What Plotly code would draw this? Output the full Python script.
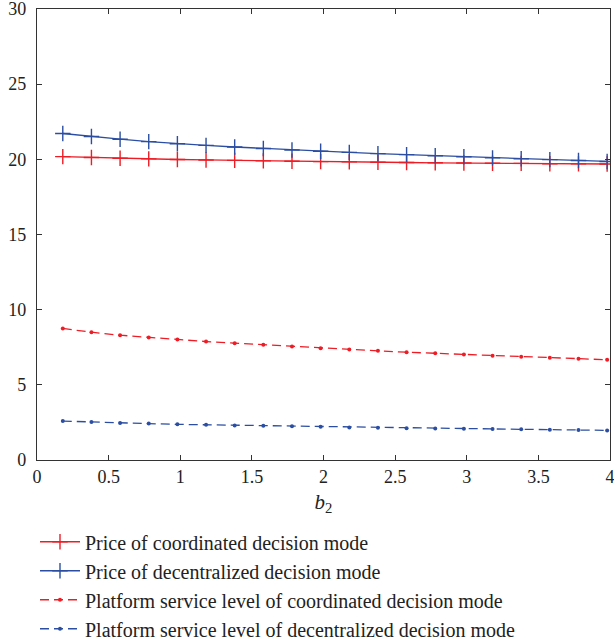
import plotly.graph_objects as go

b2 = [round(0.18 + 0.2 * k, 2) for k in range(20)]
price_coord = [20.18, 20.12, 20.07, 20.03, 19.99, 19.96, 19.93, 19.90, 19.87, 19.85,
               19.83, 19.81, 19.79, 19.77, 19.76, 19.74, 19.73, 19.71, 19.70, 19.69]
price_decent = [21.72, 21.52, 21.34, 21.18, 21.04, 20.93, 20.82, 20.72, 20.62, 20.54,
                20.46, 20.38, 20.31, 20.24, 20.17, 20.10, 20.04, 19.98, 19.92, 19.86]
service_coord = [8.75, 8.50, 8.30, 8.15, 8.01, 7.88, 7.77, 7.66, 7.55, 7.44,
                 7.35, 7.26, 7.17, 7.10, 7.02, 6.93, 6.87, 6.80, 6.73, 6.67]
service_decent = [2.59, 2.52, 2.46, 2.42, 2.37, 2.34, 2.30, 2.27, 2.24, 2.22,
                  2.17, 2.15, 2.12, 2.10, 2.08, 2.06, 2.04, 2.02, 1.99, 1.97]

x_ticks = [0, 0.5, 1, 1.5, 2, 2.5, 3, 3.5, 4]
x_tick_labels = ["0", "0.5", "1", "1.5", "2", "2.5", "3", "3.5", "4"]
y_ticks = [0, 5, 10, 15, 20, 25, 30]

names = ["Price of coordinated decision mode",
         "Price of decentralized decision mode",
         "Platform service level of coordinated decision mode",
         "Platform service level of decentralized decision mode"]

RED = "#ee1c25"
BLUE = "#2b4ea2"
FONT = "'Liberation Serif', 'DejaVu Serif', 'Times New Roman', serif"

fig = go.Figure()
fig.add_trace(go.Scatter(x=b2, y=price_coord, name=names[0], mode="lines+markers",
                         line=dict(color=RED, width=1.3),
                         marker=dict(symbol="cross-thin", size=11, line=dict(color=RED, width=1.4))))
fig.add_trace(go.Scatter(x=b2, y=price_decent, name=names[1], mode="lines+markers",
                         line=dict(color=BLUE, width=1.3),
                         marker=dict(symbol="cross-thin", size=11, line=dict(color=BLUE, width=1.4))))
fig.add_trace(go.Scatter(x=b2, y=service_coord, name=names[2], mode="lines+markers",
                         line=dict(color=RED, width=1.3, dash="9px,5px"),
                         marker=dict(symbol="circle", size=4, color=RED)))
fig.add_trace(go.Scatter(x=b2, y=service_decent, name=names[3], mode="lines+markers",
                         line=dict(color=BLUE, width=1.3, dash="9px,5px"),
                         marker=dict(symbol="circle", size=4, color=BLUE)))

axis_common = dict(showline=True, linecolor="#333333", linewidth=1.3, mirror="ticks",
                   ticks="inside", ticklen=5, tickcolor="#333333", tickwidth=1,
                   showgrid=False, zeroline=False, ticklabeloverflow="allow",
                   tickfont=dict(family=FONT, size=18, color="#222222"))

fig.update_layout(
    width=614, height=640,
    margin=dict(l=37, r=4, t=9, b=180, autoexpand=False),
    paper_bgcolor="white", plot_bgcolor="white",
    font=dict(family=FONT, size=18, color="#222222"),
    xaxis=dict(range=[0, 4], tickvals=x_ticks, ticktext=x_tick_labels,
               title=dict(text="<i>b</i><sub>2</sub>", font=dict(family=FONT, size=21), standoff=8),
               **axis_common),
    yaxis=dict(range=[0, 30], tickvals=y_ticks, ticklabelstandoff=6, **axis_common),
    legend=dict(xref="container", yref="container", x=0.057, y=0.184,
                xanchor="left", yanchor="top", tracegroupgap=0,
                font=dict(family=FONT, size=20, color="#222222"),
                bgcolor="rgba(0,0,0,0)", itemwidth=40),
    showlegend=True,
)

fig.write_html("out.html", config={"displayModeBar": False},
               post_script="document.body.style.margin='0';document.body.style.overflow='hidden';")
